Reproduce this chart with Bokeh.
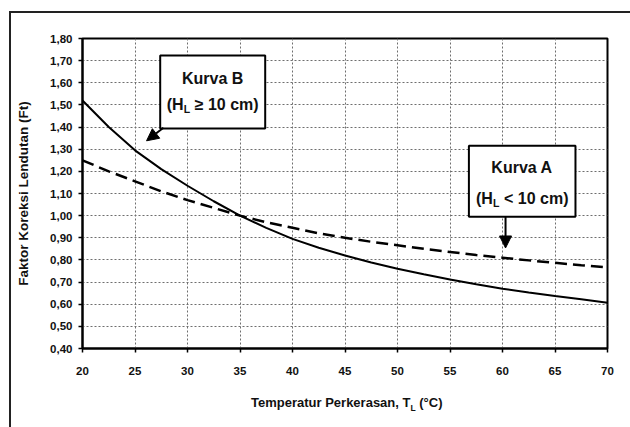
from bokeh.plotting import figure
from bokeh.models import FixedTicker, Label, BoxAnnotation, Arrow, NormalHead, Range1d, Div
from bokeh.layouts import column
from bokeh.embed import file_html
from bokeh.resources import INLINE

# ---- data ----
temps = [20, 22.5, 25, 27.5, 30, 32.5, 35, 37.5, 40, 42.5, 45, 47.5, 50, 52.5, 55,
         57.5, 60, 62.5, 65, 67.5, 70]
kurva_b = [1.52, 1.40, 1.295, 1.21, 1.135, 1.065, 1.00, 0.945, 0.895, 0.855, 0.82, 0.788,
           0.76, 0.735, 0.712, 0.69, 0.67, 0.653, 0.637, 0.622, 0.607]
kurva_a = [1.25, 1.20, 1.155, 1.11, 1.07, 1.035, 1.00, 0.97, 0.945, 0.92, 0.90, 0.882,
           0.866, 0.85, 0.836, 0.822, 0.81, 0.798, 0.787, 0.776, 0.766]
x_ticks = [20, 25, 30, 35, 40, 45, 50, 55, 60, 65, 70]
x_tick_labels = ["20", "25", "30", "35", "40", "45", "50", "55", "60", "65", "70"]
y_ticks = [0.4, 0.5, 0.6, 0.7, 0.8, 0.9, 1.0, 1.1, 1.2, 1.3, 1.4, 1.5, 1.6, 1.7, 1.8]
y_tick_labels = ["0,40", "0,50", "0,60", "0,70", "0,80", "0,90", "1,00", "1,10",
                 "1,20", "1,30", "1,40", "1,50", "1,60", "1,70", "1,80"]

FONT = "Liberation Sans"

p = figure(width=612, height=370, output_backend="svg", toolbar_location=None,
           x_range=Range1d(20, 70), y_range=Range1d(0.4, 1.8),
           min_border_left=71, min_border_right=16, min_border_top=25, min_border_bottom=35)

p.outline_line_color = "black"
p.outline_line_width = 2
p.outline_line_alpha = 1

# grid
for g in (p.xgrid, p.ygrid):
    g.grid_line_color = "#6e6e6e"
    g.grid_line_dash = "2 2"
    g.grid_line_width = 1
p.xgrid.ticker = FixedTicker(ticks=x_ticks)
p.ygrid.ticker = FixedTicker(ticks=y_ticks)

# axes
p.xaxis.ticker = FixedTicker(ticks=x_ticks)
p.yaxis.ticker = FixedTicker(ticks=y_ticks)
p.xaxis.major_label_overrides = {t: l for t, l in zip(x_ticks, x_tick_labels)}
p.yaxis.major_label_overrides = {t: l for t, l in zip(y_ticks, y_tick_labels)}
for ax in (p.xaxis[0], p.yaxis[0]):
    ax.axis_line_color = "black"
    ax.axis_line_width = 2
    ax.major_tick_line_color = "black"
    ax.major_tick_line_width = 1.5
    ax.major_tick_out = 4
    ax.major_tick_in = 0
    ax.minor_tick_line_color = None
    ax.major_label_text_font = FONT
    ax.major_label_text_font_style = "bold"
    ax.major_label_text_font_size = "11.5px"
    ax.major_label_text_color = "#111"
p.xaxis.major_label_standoff = 14
p.yaxis.major_label_standoff = 6

p.yaxis.axis_label = "Faktor Koreksi Lendutan (Ft)"
p.yaxis.axis_label_text_font = FONT
p.yaxis.axis_label_text_font_style = "bold"
p.yaxis.axis_label_text_font_size = "13.5px"
p.yaxis.axis_label_text_color = "#111"
p.yaxis.axis_label_standoff = 16

# curves
p.line(temps, kurva_b, line_color="black", line_width=2)
p.line(temps, kurva_a, line_color="black", line_width=2.5, line_dash="12 6")


def add_label(x, y, text, size, xo=0, yo=0, align="left"):
    p.add_layout(Label(x=x, y=y, x_offset=xo, y_offset=yo, text=text,
                       text_font=FONT, text_font_style="bold", text_font_size=size,
                       text_align=align, text_baseline="middle", text_color="#111"))


# annotation boxes
p.add_layout(BoxAnnotation(left=27.4, right=37.4, top=1.723, bottom=1.393,
                           fill_color="white", fill_alpha=1, line_color="black",
                           line_width=2, line_alpha=1))
p.add_layout(BoxAnnotation(left=56.8, right=66.95, top=1.316, bottom=0.995,
                           fill_color="white", fill_alpha=1, line_color="black",
                           line_width=2, line_alpha=1))

add_label(32.4, 1.62, "Kurva B", "16px", 0, 0, "center")
add_label(32.4, 1.50, "(H", "16px", -46, 0)
add_label(32.4, 1.50, "L", "10.5px", -29, -4)
add_label(32.4, 1.50, "\u2265 10 cm)", "16px", -18, 0)

add_label(61.86, 1.216, "Kurva A", "16px", 0, 0, "center")
add_label(61.86, 1.076, "(H", "16px", -46, 0)
add_label(61.86, 1.076, "L", "10.5px", -29, -4)
add_label(61.86, 1.076, "< 10 cm)", "16px", -18, 0)

# arrows
p.add_layout(Arrow(x_start=27.71, y_start=1.397, x_end=26.1, y_end=1.338,
                   line_color="black", line_width=2,
                   end=NormalHead(size=12, fill_color="black", line_color="black")))
p.add_layout(Arrow(x_start=60.29, y_start=0.995, x_end=60.29, y_end=0.854,
                   line_color="black", line_width=2,
                   end=NormalHead(size=12, fill_color="black", line_color="black")))

# x-axis title (with subscript) below the plot
xtitle = Div(text=('<div style="margin-left:235px; margin-top:6px; '
                   'font-family:\'Liberation Sans\'; font-weight:bold; font-size:13px; '
                   'color:#111; white-space:nowrap;">Temperatur Perkerasan, '
                   'T<sub style="font-size:8.5px;">L</sub> (°C)</div>'),
             width=612, height=36)

layout = column(p, xtitle, spacing=0,
                styles={"margin-left": "9px", "margin-top": "11px",
                        "border-top": "2px solid #222", "border-left": "2px solid #222"})

open("out.html", "w").write(file_html(layout, INLINE))
